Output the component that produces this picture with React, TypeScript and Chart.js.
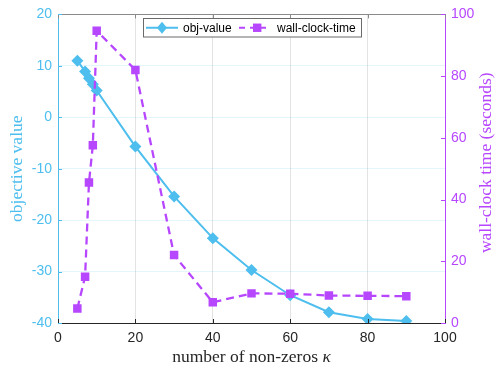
import React, { useEffect, useRef } from 'react';
import { Chart, registerables } from 'chart.js';

Chart.register(...registerables);

const kappa = [5, 7, 8, 9, 10, 20, 30, 40, 50, 60, 70, 80, 90];
const objValue = [11.0, 8.9, 7.6, 6.4, 5.2, -5.7, -15.4, -23.5, -29.7, -34.6, -37.9, -39.2, -39.6];
const wallClock = [4.7, 15.0, 45.5, 57.6, 94.7, 82.0, 22.0, 6.7, 9.6, 9.5, 8.9, 8.8, 8.7];
const xTicks = [0, 20, 40, 60, 80, 100];
const leftTicks = [-40, -30, -20, -10, 0, 10, 20];
const rightTicks = [0, 20, 40, 60, 80, 100];
const seriesLabels = ['obj-value', 'wall-clock-time'];
const xTitle = 'number of non-zeros ';
const xTitleSymbol = 'κ';
const leftTitle = 'objective value';
const rightTitle = 'wall-clock time (seconds)';

const BLUE = 'rgb(77,190,238)';
const PURPLE = 'rgb(183,70,255)';
const DARK = '#262626';
const SANS = '"Liberation Sans", Arial, sans-serif';
const SERIF = '"Liberation Serif", "Times New Roman", serif';

const decorPlugin = {
  id: 'decor',
  afterDraw(chart: any) {
    const ctx = chart.ctx;
    const ca = chart.chartArea;
    const xs = chart.scales.x;
    const ys = chart.scales.y;
    const ys1 = chart.scales.y1;
    ctx.save();
    // top border
    ctx.strokeStyle = '#8a8a8a';
    ctx.lineWidth = 1;
    ctx.beginPath();
    ctx.moveTo(ca.left, Math.round(ca.top) + 0.5);
    ctx.lineTo(ca.right, Math.round(ca.top) + 0.5);
    ctx.stroke();
    // inward ticks
    const tl = 4;
    ctx.strokeStyle = DARK;
    xTicks.forEach((t) => {
      const px = Math.round(xs.getPixelForValue(t)) + 0.5;
      ctx.beginPath();
      ctx.moveTo(px, ca.bottom);
      ctx.lineTo(px, ca.bottom - tl);
      ctx.stroke();
      ctx.beginPath();
      ctx.strokeStyle = '#8a8a8a';
      ctx.moveTo(px, ca.top);
      ctx.lineTo(px, ca.top + tl);
      ctx.stroke();
      ctx.strokeStyle = DARK;
    });
    ctx.strokeStyle = BLUE;
    leftTicks.forEach((t) => {
      const py = Math.round(ys.getPixelForValue(t)) + 0.5;
      ctx.beginPath();
      ctx.moveTo(ca.left, py);
      ctx.lineTo(ca.left + tl, py);
      ctx.stroke();
    });
    ctx.strokeStyle = PURPLE;
    rightTicks.forEach((t) => {
      const py = Math.round(ys1.getPixelForValue(t)) + 0.5;
      ctx.beginPath();
      ctx.moveTo(ca.right, py);
      ctx.lineTo(ca.right - tl, py);
      ctx.stroke();
    });

    // axis titles
    const midY = (ca.top + ca.bottom) / 2;
    ctx.font = `17.5px ${SERIF}`;
    ctx.textAlign = 'center';
    ctx.textBaseline = 'middle';
    ctx.fillStyle = BLUE;
    ctx.save();
    ctx.translate(17, midY);
    ctx.rotate(-Math.PI / 2);
    ctx.fillText(leftTitle, 0, 0);
    ctx.restore();
    ctx.fillStyle = PURPLE;
    ctx.save();
    ctx.translate(486, midY - 6);
    ctx.rotate(-Math.PI / 2);
    ctx.fillText(rightTitle, 0, 0);
    ctx.restore();
    // x title with italic kappa
    ctx.fillStyle = DARK;
    ctx.textAlign = 'left';
    const normalFont = `17.5px ${SERIF}`;
    const italicFont = `italic 17.5px ${SERIF}`;
    ctx.font = normalFont;
    const w1 = ctx.measureText(xTitle).width;
    ctx.font = italicFont;
    const w2 = ctx.measureText(xTitleSymbol).width;
    const cx = (ca.left + ca.right) / 2;
    const startX = cx - (w1 + w2) / 2;
    const ty = 357;
    ctx.font = normalFont;
    ctx.fillText(xTitle, startX, ty);
    ctx.font = italicFont;
    ctx.fillText(xTitleSymbol, startX + w1, ty);

    // legend
    const lx = 143.5, ly = 18.5, lw = 218, lh = 18.5;
    ctx.fillStyle = '#ffffff';
    ctx.fillRect(lx, ly, lw, lh);
    ctx.strokeStyle = '#6a6a6a';
    ctx.lineWidth = 1;
    ctx.strokeRect(lx, ly, lw, lh);
    const my = ly + lh / 2;
    // blue sample
    ctx.strokeStyle = BLUE;
    ctx.lineWidth = 2;
    ctx.beginPath();
    ctx.moveTo(146, my);
    ctx.lineTo(178, my);
    ctx.stroke();
    ctx.fillStyle = BLUE;
    ctx.beginPath();
    ctx.moveTo(162, my - 6);
    ctx.lineTo(167, my);
    ctx.lineTo(162, my + 6);
    ctx.lineTo(157, my);
    ctx.closePath();
    ctx.fill();
    // purple sample
    ctx.strokeStyle = PURPLE;
    ctx.setLineDash([6, 5]);
    ctx.beginPath();
    ctx.moveTo(239, my);
    ctx.lineTo(266, my);
    ctx.stroke();
    ctx.setLineDash([]);
    ctx.fillStyle = PURPLE;
    ctx.fillRect(253, my - 4.2, 8.4, 8.4);
    // texts
    ctx.fillStyle = '#000000';
    ctx.font = `12px ${SANS}`;
    ctx.textAlign = 'left';
    ctx.textBaseline = 'middle';
    ctx.fillText(seriesLabels[0], 183, my + 0.5);
    ctx.fillText(seriesLabels[1], 277, my + 0.5);
    ctx.restore();
  },
};

export default function App() {
  const ref = useRef<HTMLCanvasElement | null>(null);
  useEffect(() => {
    if (!ref.current) return;
    const chart = new Chart(ref.current, {
      type: 'line',
      data: {
        datasets: [
          {
            label: seriesLabels[0],
            data: kappa.map((k, i) => ({ x: k, y: objValue[i] })),
            yAxisID: 'y',
            borderColor: BLUE,
            backgroundColor: BLUE,
            borderWidth: 2,
            pointStyle: 'rectRot',
            pointRadius: 6,
            pointBorderWidth: 0,
            pointBackgroundColor: BLUE,
            tension: 0,
            order: 2,
          },
          {
            label: seriesLabels[1],
            data: kappa.map((k, i) => ({ x: k, y: wallClock[i] })),
            yAxisID: 'y1',
            borderColor: PURPLE,
            backgroundColor: PURPLE,
            borderWidth: 2.3,
            borderDash: [8, 5],
            pointStyle: 'rect',
            pointRadius: 6,
            pointBorderWidth: 0,
            pointBackgroundColor: PURPLE,
            tension: 0,
            order: 1,
          },
        ],
      },
      options: {
        responsive: false,
        animation: false,
        layout: { padding: { top: 13, left: 0, right: 0, bottom: 0 } },
        plugins: { legend: { display: false }, tooltip: { enabled: false } },
        scales: {
          x: {
            type: 'linear',
            position: 'bottom',
            min: 0,
            max: 100,
            afterBuildTicks: (s: any) => { s.ticks = xTicks.map((v) => ({ value: v })); },
            afterFit: (s: any) => { s.height = 46; },
            ticks: { color: DARK, font: { family: SANS, size: 14 }, padding: 7, maxRotation: 0 },
            grid: { color: 'rgba(38,38,38,0.13)', drawTicks: false },
            border: { color: DARK, width: 1 },
          },
          y: {
            type: 'linear',
            position: 'left',
            min: -40,
            max: 20,
            afterBuildTicks: (s: any) => { s.ticks = leftTicks.map((v) => ({ value: v })); },
            afterFit: (s: any) => { s.width = 58; },
            ticks: { color: BLUE, font: { family: SANS, size: 14 }, padding: 6 },
            grid: { color: 'rgba(77,190,238,0.15)', drawTicks: false },
            border: { color: BLUE, width: 1 },
          },
          y1: {
            type: 'linear',
            position: 'right',
            min: 0,
            max: 100,
            afterBuildTicks: (s: any) => { s.ticks = rightTicks.map((v) => ({ value: v })); },
            afterFit: (s: any) => { s.width = 50; },
            ticks: { color: PURPLE, font: { family: SANS, size: 14 }, padding: 6 },
            grid: { display: false, drawTicks: false },
            border: { color: PURPLE, width: 1 },
          },
        },
      },
      plugins: [decorPlugin],
    });
    return () => chart.destroy();
  }, []);
  return (
    <div style={{ position: 'absolute', left: 0, top: 0, width: 495, height: 369, background: '#fff' }}>
      <canvas ref={ref} width={495} height={369} />
    </div>
  );
}
